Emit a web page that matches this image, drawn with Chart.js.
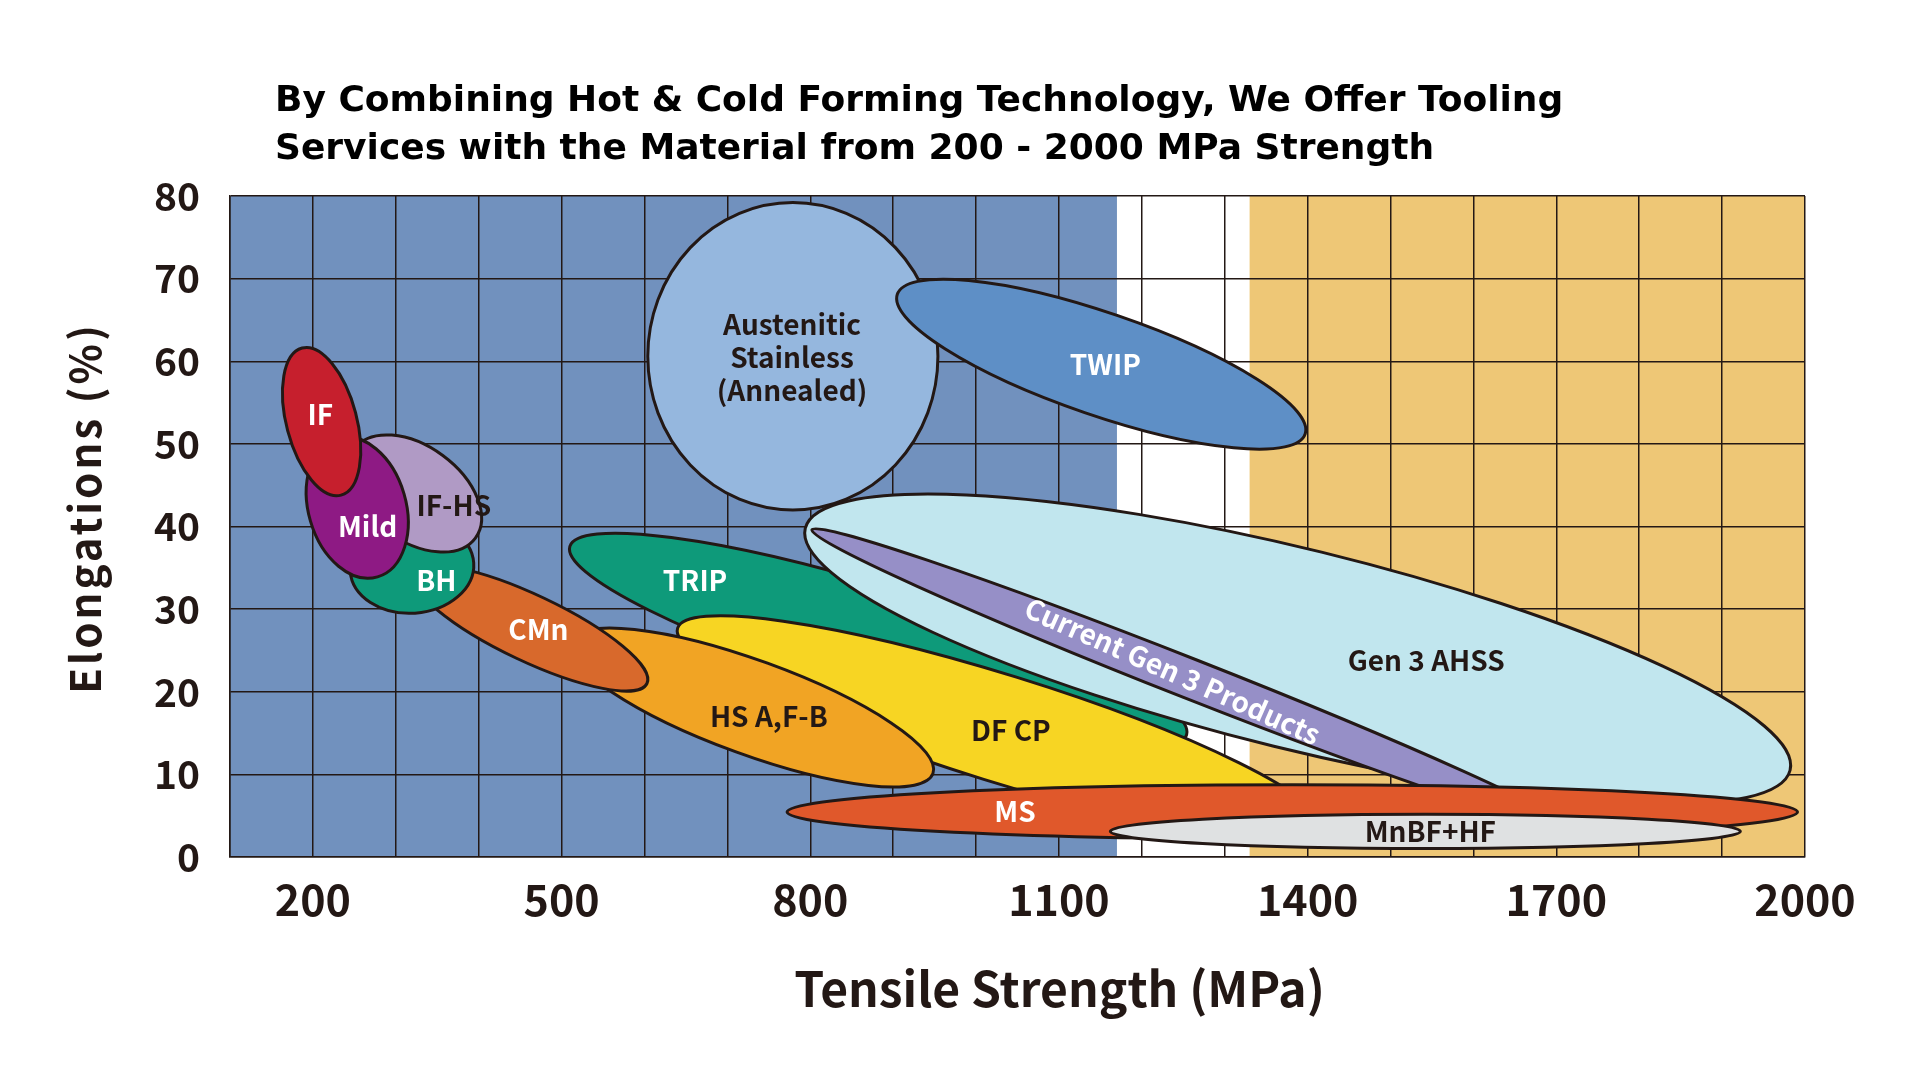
<!DOCTYPE html>
<html>
<head>
<meta charset="utf-8">
<script src="https://cdn.jsdelivr.net/npm/chart.js@4.4.0/dist/chart.umd.min.js"></script>
<style>
  html, body { margin: 0; padding: 0; background: #fff; }
  #wrap { width: 1920px; height: 1080px; }
</style>
</head>
<body>
<div id="wrap"><canvas id="steel" width="1920" height="1080"></canvas></div>
<script>
// axes: tensile strength (MPa) and elongation (%)
const xTickLabels = [200, 500, 800, 1100, 1400, 1700, 2000];
const yTickLabels = [0, 10, 20, 30, 40, 50, 60, 70, 80];

// background zones along the strength axis (MPa)
const zoneStart = [100, 1170, 1330];
const zoneEnd = [1170, 1330, 2000];

// material envelopes, back to front.
// each is an ellipse: the two tips of its long axis (MPa, %) and its half thickness (%)
const grades = ["Austenitic Stainless (Annealed)", "TWIP", "TRIP", "DF CP", "HS A,F-B", "CMn", "BH",
  "IF-HS", "Mild", "IF", "Gen 3 AHSS", "Current Gen 3 Products", "MS", "MnBF+HF"];
const tipStrengthA = [604, 905, 510, 640, 510, 321, 245, 250, 229, 187, 794, 802, 772, 1162];
const tipElongA = [60.6, 68.1, 37.6, 27.7, 26.1, 34.4, 34.6, 49.4, 50.7, 61.6, 39.8, 39.6, 5.45, 3.1];
const tipStrengthB = [954, 1397, 1254, 1417, 948, 603, 394, 396, 278, 234, 1982, 1716, 1991, 1922];
const tipElongB = [60.6, 51.2, 14.8, 3.5, 10.1, 21.0, 35.6, 38.6, 33.9, 43.8, 10.5, 3.5, 5.45, 3.1];
const halfThickness = [18.6, 6.2, 6.5, 6.5, 5.7, 4.0, 5.6, 5.7, 5.9, 4.25, 12.1, 2.4, 3.3, 2.06];

// where each name is written (MPa, %)
const labelLines = [["Austenitic", "Stainless", "(Annealed)"], ["TWIP"], ["TRIP"], ["DF CP"], ["HS A,F-B"],
  ["CMn"], ["BH"], ["IF-HS"], ["Mild"], ["IF"], ["Gen 3 AHSS"], ["Current Gen 3 Products"], ["MS"], ["MnBF+HF"]];
const labelStrength = [778, 1156, 661, 1042, 750, 472, 349, 370, 266, 209, 1543, 1237, 1047, 1548];
const labelElong = [60.5, 59.6, 33.5, 15.3, 17.0, 27.5, 33.5, 42.5, 40.0, 53.6, 23.8, 22.5, 5.5, 3.1];

// styles
const INK = "#231815";
const zoneColors = ["#7191be", "#ffffff", "#eec776"];
const fillColors = ["#95b7de", "#5e8fc6", "#0e9a7a", "#f7d523", "#f1a424", "#d8692c", "#0e9a7a",
  "#b09ac5", "#8e1a84", "#c61f2d", "#c1e6ee", "#968fc7", "#e0582b", "#dfe1e2"];
const labelColors = [INK, "#fff", "#fff", INK, INK, "#fff", "#fff", INK, "#fff", "#fff", INK, "#fff", "#fff", INK];
const labelAngles = [0, 0, 0, 0, 0, 0, 0, 0, 0, 0, 0, 24, 0, 0];

const titleLines = [
  "By Combining Hot & Cold Forming Technology, We Offer Tooling",
  "Services with the Material from 200 - 2000 MPa Strength"
];

Chart.defaults.font.family = "'Noto Sans CJK JP', 'Noto Sans', sans-serif";

const zonePlugin = {
  id: "zones",
  beforeDraw(chart) {
    const { ctx, chartArea: { top, bottom }, scales: { x } } = chart;
    ctx.save();
    for (let i = 0; i < zoneStart.length; i++) {
      const l = x.getPixelForValue(zoneStart[i]);
      const r = x.getPixelForValue(zoneEnd[i]);
      ctx.fillStyle = zoneColors[i];
      ctx.fillRect(l, top, r - l, bottom - top);
    }
    ctx.restore();
  }
};

const envelopePlugin = {
  id: "envelopes",
  afterDatasetsDraw(chart) {
    const { ctx, chartArea, scales: { x, y } } = chart;
    ctx.save();
    ctx.beginPath();
    ctx.rect(chartArea.left, chartArea.top, chartArea.width, chartArea.height);
    ctx.clip();
    for (let i = 0; i < grades.length; i++) {
      const ax = x.getPixelForValue(tipStrengthA[i]);
      const ay = y.getPixelForValue(tipElongA[i]);
      const bx = x.getPixelForValue(tipStrengthB[i]);
      const by = y.getPixelForValue(tipElongB[i]);
      const rx = Math.hypot(bx - ax, by - ay) / 2;
      const ry = y.getPixelForValue(0) - y.getPixelForValue(halfThickness[i]);
      ctx.beginPath();
      ctx.ellipse((ax + bx) / 2, (ay + by) / 2, rx, ry, Math.atan2(by - ay, bx - ax), 0, Math.PI * 2);
      ctx.fillStyle = fillColors[i];
      ctx.fill();
      ctx.lineWidth = 3;
      ctx.strokeStyle = INK;
      ctx.stroke();
    }
    // names
    ctx.font = "bold 28px 'Noto Sans CJK JP'";
    ctx.textAlign = "center";
    ctx.textBaseline = "middle";
    for (let i = 0; i < grades.length; i++) {
      const lines = labelLines[i];
      ctx.save();
      ctx.translate(x.getPixelForValue(labelStrength[i]), y.getPixelForValue(labelElong[i]));
      ctx.rotate(labelAngles[i] * Math.PI / 180);
      ctx.fillStyle = labelColors[i];
      lines.forEach((t, k) => ctx.fillText(t, 0, (k - (lines.length - 1) / 2) * 33));
      ctx.restore();
    }
    ctx.restore();
  }
};

const textPlugin = {
  id: "texts",
  afterDraw(chart) {
    const { ctx, chartArea } = chart;
    ctx.save();
    ctx.fillStyle = "#000";
    ctx.font = "bold 36px 'DejaVu Sans'";
    ctx.textAlign = "left";
    ctx.textBaseline = "alphabetic";
    ctx.fillText(titleLines[0], chartArea.left + 45, 111);
    ctx.fillText(titleLines[1], chartArea.left + 45, 159);

    ctx.fillStyle = INK;
    ctx.font = "bold 48px 'Noto Sans CJK JP'";
    ctx.textAlign = "center";
    ctx.textBaseline = "middle";
    ctx.fillText("Tensile Strength (MPa)", (chartArea.left + chartArea.right) / 2 + 42, 989);

    ctx.translate(85, 508);
    ctx.rotate(-Math.PI / 2);
    ctx.font = "bold 42px 'Noto Sans CJK JP'";
    ctx.letterSpacing = "3px";
    ctx.fillText("Elongations (%)", 0, 0);
    ctx.restore();
  }
};

new Chart(document.getElementById("steel"), {
  type: "scatter",
  data: { datasets: [] },
  options: {
    responsive: false,
    animation: false,
    layout: { padding: { top: 196, right: 115, bottom: 0, left: 0 } },
    plugins: {
      legend: { display: false },
      tooltip: { enabled: false }
    },
    scales: {
      x: {
        type: "linear",
        min: 100,
        max: 2000,
        ticks: {
          stepSize: 100,
          autoSkip: false,
          maxRotation: 0,
          padding: 17,
          color: INK,
          font: { size: 43, weight: "bold" },
          callback: (v) => (xTickLabels.includes(v) ? String(v) : "")
        },
        grid: { color: INK, lineWidth: 1.5, drawTicks: false },
        border: { color: INK, width: 1.5 },
        afterFit: (s) => { s.height = 223; }
      },
      y: {
        type: "linear",
        min: 0,
        max: 80,
        ticks: {
          stepSize: 10,
          autoSkip: false,
          padding: 30,
          color: INK,
          font: { size: 39, weight: "bold" },
          callback: (v) => (yTickLabels.includes(v) ? String(v) : "")
        },
        grid: { color: INK, lineWidth: 1.5, drawTicks: false },
        border: { color: INK, width: 1.5 },
        afterFit: (s) => { s.width = 230; }
      }
    }
  },
  plugins: [zonePlugin, envelopePlugin, textPlugin]
});
</script>
</body>
</html>
